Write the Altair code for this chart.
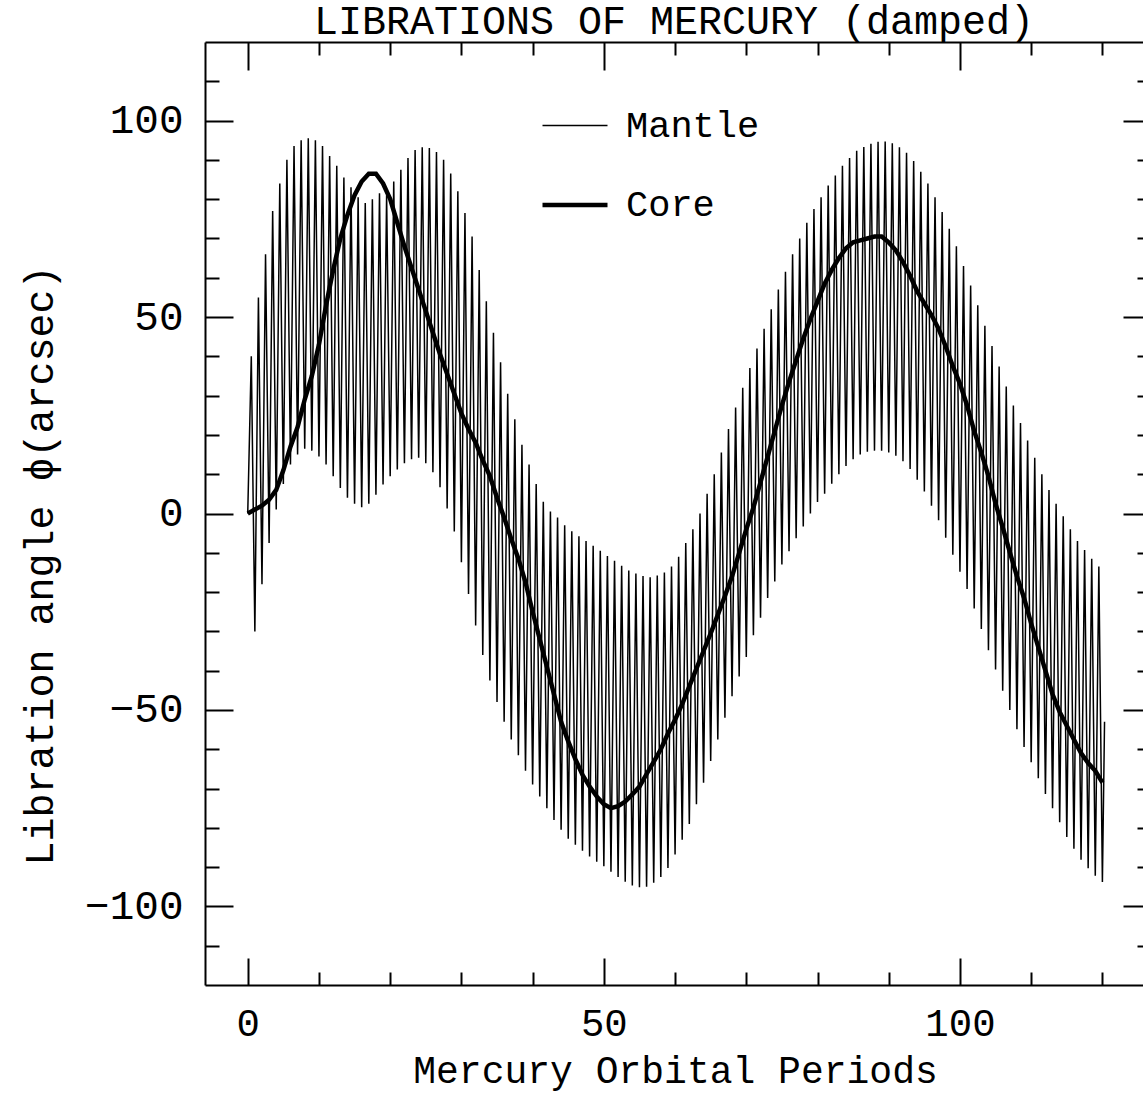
import altair as alt
import pandas as pd

# ---- data ----
# Mantle: peak of each orbital period k (at t = k + 0.5), k = 0..119
mantle_upper = [
    40, 55, 66, 77, 84, 90, 93.5, 95, 95.5, 95,
    93.5, 91, 88.5, 85.5, 83, 80.5, 79, 80, 81.5, 81,
    84.5, 87.5, 90.5, 92.5, 93.2, 93, 92, 90, 86.5, 82,
    76.5, 70.5, 62, 54, 46, 38.5, 30.5, 24, 17.5, 12.5,
    7.5, 3, 0.5, -1, -3, -4.5, -5.8, -7, -8.2, -9.5,
    -10.8, -12, -13.3, -14.5, -15.3, -15.9, -16.2, -15.8, -15, -13.5,
    -11, -7.5, -4, 0, 5, 10, 15.5, 21.5, 27, 32,
    37, 42, 47, 52, 57, 61.5, 66, 70, 74, 77.5,
    80.5, 83.5, 86, 88.5, 90.5, 92.3, 93.3, 94.1, 94.6, 94.7,
    94.2, 93.2, 91.8, 89.7, 87, 84, 80.5, 76.7, 72.5, 68,
    63, 58, 53, 47.8, 42.6, 37.4, 32.3, 27.5, 23, 18.6,
    14.2, 10, 6, 2.5, -0.7, -4, -7, -9.3, -11.5, -13.5,
]
# Mantle: trough at the end of each period (t = 1..120)
mantle_lower = [
    -30, -18, -7.5, 1, 7.5, 12.5, 15, 16.5, 16, 14.5,
    12.5, 9.5, 6.5, 4, 2.5, 1.6, 2.5, 4.8, 7.4, 9.5,
    11.2, 12.8, 13.8, 14.2, 12.8, 10.5, 6.7, 1.3, -4.6, -12.4,
    -20.5, -28.5, -36, -42.5, -48, -53, -57.5, -61.5, -65.5, -69,
    -72, -75, -78, -80.5, -82.8, -84.3, -85.8, -87.3, -88.6, -89.8,
    -91.2, -92.5, -93.7, -94.7, -95.1, -95, -94, -92.5, -90.2, -86.8,
    -83, -79, -74, -68.5, -63, -57.5, -52, -46.5, -41.5, -36.5,
    -31, -26.5, -21.5, -17.3, -13, -9.6, -6.3, -3.3, 0, 2.9,
    5, 7.6, 10, 12.1, 13.8, 15, 15.7, 16, 16, 15.5,
    14.7, 13.3, 11.3, 8.6, 5.6, 2, -1.7, -6.2, -10.5, -14.8,
    -19.2, -24.2, -29.4, -34.8, -39.7, -45.1, -50, -54.9, -59.4, -63.3,
    -67.4, -71.4, -75, -78.6, -82.3, -85.3, -88.1, -90.3, -92.2, -93.8,
]
mantle_start = (0.0, 0.0)
mantle_end = (120.3, -53.0)

# Core: value at each integer orbital period t = 0..120
core_values = [
    0, 1, 2, 3.5, 6, 11, 17, 22, 29, 35,
    43, 53, 62, 70, 76, 81, 84.5, 86.5, 86.5, 84,
    80, 74, 68, 62.5, 57, 51.5, 46, 40.5, 35.5, 30.5,
    25.5, 21.5, 18, 13.5, 9.5, 4, -1, -6.5, -11.5, -17.5,
    -25, -32, -39, -46, -53, -58, -62.5, -66.5, -69.5, -72,
    -74, -75, -74.5, -73.3, -71.5, -69.5, -66.3, -63.2, -60, -56,
    -52.5, -48.5, -44, -39.5, -35, -30.5, -25.8, -21, -16, -10,
    -4, 1.5, 8, 14.5, 21, 27.5, 33.5, 39, 44.5, 49.5,
    54, 58.5, 62, 65, 67.5, 69, 69.5, 70, 70.5, 70.5,
    69, 67, 64, 60.5, 56.5, 53.5, 50.5, 47, 42.5, 37.5,
    33, 27.5, 21, 15.5, 9.5, 2.5, -3.5, -9.8, -16, -21.5,
    -28, -34, -40, -46, -50.5, -54, -57.5, -61, -63.5, -65.5,
    -68.5,
]

y_major = [-100, -50, 0, 50, 100]
y_minor = [-110, -90, -80, -70, -60, -40, -30, -20, -10, 10, 20, 30, 40, 60, 70, 80, 90, 110]
x_major = [0, 50, 100]
x_minor = [10, 20, 30, 40, 60, 70, 80, 90, 110, 120]

# ---- tables ----
mt = [mantle_start[0]]
mv = [mantle_start[1]]
for k in range(len(mantle_upper)):
    mt += [k + 0.5, k + 1.0]
    mv += [mantle_upper[k], mantle_lower[k]]
mt.append(mantle_end[0])
mv.append(mantle_end[1])
mantle_df = pd.DataFrame({"t": mt, "v": mv, "series": "Mantle"})
core_df = pd.DataFrame({"t": list(range(len(core_values))), "v": core_values, "series": "Core"})

FONT = "Liberation Mono"
W, H = 938, 943
xscale = alt.Scale(domain=[-6, 125.7], nice=False, zero=False)
yscale = alt.Scale(domain=[-120, 120], nice=False, zero=False)

sw = alt.StrokeWidth(
    "series:N",
    scale=alt.Scale(domain=["Mantle", "Core"], range=[1.5, 4.5]),
    legend=alt.Legend(
        orient="none", legendX=335, legendY=50, title=None,
        symbolType="stroke", symbolSize=4225, symbolStrokeColor="black",
        labelFont=FONT, labelFontSize=37, labelColor="black", labelOffset=16,
        rowPadding=26, padding=0,
    ),
)


def noaxis_kw():
    return dict(labels=False, title=None, grid=False)


# Layer 1: mantle + label axes (left, bottom) with frame lines
mantle = alt.Chart(mantle_df).mark_line(color="black").encode(
    x=alt.X("t:Q", scale=xscale, axis=alt.Axis(
        orient="bottom", values=x_major, ticks=False, tickSize=0, domain=True,
        labelPadding=19, labelFont=FONT, labelFontSize=39, format="d",
        title="Mercury Orbital Periods", titleFont=FONT, titleFontSize=38,
        titleX=470, titleY=86, titleAlign="center", titleBaseline="middle")),
    y=alt.Y("v:Q", scale=yscale, axis=alt.Axis(
        orient="left", values=y_major, ticks=False, tickSize=0, domain=True,
        labelPadding=22, labelFont=FONT, labelFontSize=41, format="d",
        title="Libration angle ϕ(arcsec)", titleFont=FONT, titleFontSize=40,
        titleX=-165, titleY=523, titleAngle=-90, titleAlign="center",
        titleBaseline="middle")),
    strokeWidth=sw,
)

# Layer 2: core + major inward ticks (left, bottom)
core = alt.Chart(core_df).mark_line(color="black").encode(
    x=alt.X("t:Q", scale=xscale, axis=alt.Axis(
        orient="bottom", values=x_major, offset=-27, tickSize=27, domain=False, **noaxis_kw())),
    y=alt.Y("v:Q", scale=yscale, axis=alt.Axis(
        orient="left", values=y_major, offset=-28, tickSize=28, domain=False, **noaxis_kw())),
    strokeWidth=sw,
)


def tick_layer(xo, xvals, xoff, xsize, yo, yvals, yoff, ysize, xdomain=False):
    return alt.Chart(core_df).mark_line(opacity=0).encode(
        x=alt.X("t:Q", scale=xscale, axis=alt.Axis(
            orient=xo, values=xvals, offset=xoff, tickSize=xsize,
            ticks=xsize > 0, domain=xdomain, **noaxis_kw())),
        y=alt.Y("v:Q", scale=yscale, axis=alt.Axis(
            orient=yo, values=yvals, offset=yoff, tickSize=ysize,
            ticks=ysize > 0, domain=False, **noaxis_kw())),
    )


minor_lb = tick_layer("bottom", x_minor, -13, 13, "left", y_minor, -14, 14)
major_tr = tick_layer("top", x_major, -28, 28, "right", y_major, -20, 20)
minor_tr = tick_layer("top", x_minor, -13, 13, "right", y_minor, -6, 6)
frame_top = tick_layer("top", x_major, 0, 0, "right", y_major, 0, 0, xdomain=True)

chart = alt.layer(
    mantle, core, minor_lb, major_tr, minor_tr, frame_top
).resolve_scale(
    x="shared", y="shared"
).resolve_axis(
    x="independent", y="independent"
).properties(
    width=W, height=H,
    title=alt.TitleParams("LIBRATIONS OF MERCURY (damped)", font=FONT, fontSize=40,
                          fontWeight="normal", color="black", anchor="middle",
                          frame="group", offset=4, dy=5),
    autosize=alt.AutoSizeParams(type="none"),
    padding={"left": 205, "top": 42, "right": 0, "bottom": 108},
    background="white",
).configure_view(
    stroke=None
).configure_axis(
    grid=False, tickColor="black", tickWidth=2, domainColor="black", domainWidth=2,
    labelColor="black", titleColor="black", titleFontWeight="normal",
)

chart.save("out.html", embed_options={"renderer": "svg", "actions": False})
